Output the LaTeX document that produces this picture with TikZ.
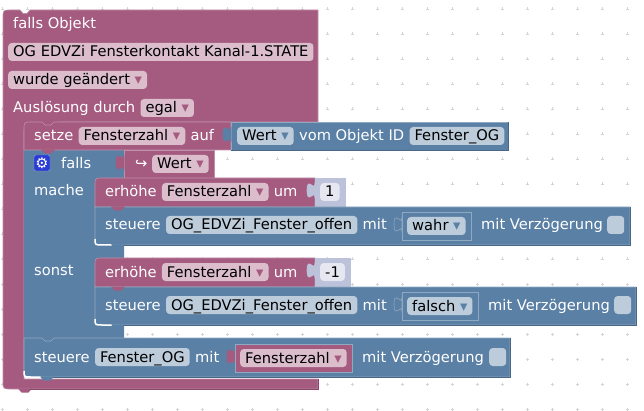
\documentclass[tikz,border=0pt]{standalone}
\usepackage{fontspec}
\setmainfont{DejaVu Sans}
\usetikzlibrary{positioning}

\definecolor{blkpink}{HTML}{A55B80}
\definecolor{pinkedge}{HTML}{C08FA9}
\definecolor{pinkdark}{HTML}{84496A}
\definecolor{pinkfld}{HTML}{DBBDCC}
\definecolor{blkblue}{HTML}{5B80A5}
\definecolor{blueedge}{HTML}{8FA9C0}
\definecolor{bluedark}{HTML}{496684}
\definecolor{bluefld}{HTML}{BDCCDB}
\definecolor{blklila}{HTML}{BDC2DB}
\definecolor{lilafld}{HTML}{E5E7F1}
\definecolor{gridgrey}{HTML}{D4D4D4}
\definecolor{gearblue}{HTML}{2B3BD6}

\tikzset{
  pinkblock/.style={fill=blkpink, draw=pinkedge, line width=.6pt},
  blueblock/.style={fill=blkblue, draw=blueedge, line width=.6pt},
  lilablock/.style={fill=blklila, draw=blklila, line width=.6pt},
  lab/.style={text=white, inner sep=0pt, text height=12pt, text depth=2pt},
  fld/.style={text=black, rounded corners=3.5pt, inner ysep=0pt, inner xsep=5pt,
    minimum height=18pt, text height=12pt, text depth=2pt},
  pinkfield/.style={fld, fill=pinkfld},
  bluefield/.style={fld, fill=bluefld},
  lilafield/.style={fld, fill=lilafld},
  checkfield/.style={fld, fill=bluefld, minimum width=17pt, inner xsep=0pt},
  every node/.style={font=\fontsize{14.67}{17}\selectfont, anchor=west}
}

% left tab of a value block
\newcommand{\puzzletab}[4]{
  \fill[#3, draw=#4, line width=.6pt] (#1,#2+5) .. controls (#1,#2+15) and (#1-8,#2-3) .. (#1-8,#2+12.5)
    .. controls (#1-8,#2+28) and (#1,#2+10) .. (#1,#2+20) -- cycle;
}
% tab below a statement block
\newcommand{\blocktab}[3]{
  \fill[#3] (#1-7,#2-.5) -- (#1-3.5,#2+3.5) -- (#1+3.5,#2+3.5) -- (#1+7,#2-.5) -- cycle;
}
% light line round the lower left corner
\newcommand{\whitecorner}[2]{
  \draw[white, line width=1.5pt] (#1,#2-6) .. controls (#1,#2) .. (#1+7,#2) -- (#1+17,#2);
}
% dark line below and right of a block
\newcommand{\darkline}[5]{
  \draw[#5, line width=.7pt] (#1,#4) -- (#2,#4) -- (#2,#3);
}

\begin{document}
\begin{tikzpicture}[x=1pt, y=-1pt]
    \useasboundingbox (0,0) rectangle (644,411);

    % dots of the workspace
    \foreach \gx in {2,27,...,627} {
      \foreach \gy in {9,34,...,409} {
        \draw[gridgrey, line width=.5pt] (\gx-1.5,\gy) -- (\gx+1.5,\gy) (\gx,\gy-1.5) -- (\gx,\gy+1.5);
      }
    }

    % outer block
    \draw[pinkblock] (3,18) .. controls (3,10) .. (11,10) -- (20,10) -- (23,13.5) -- (27,13.5) -- (30,10)
      -- (318,10) -- (318,122) -- (60,122) -- (60,131) -- (24,131) -- (24,379) -- (318,379) -- (318,389) -- (11,389)
      .. controls (3,389) .. (3,381) -- cycle;
    \blocktab{25}{389}{blkpink}
    \darkline{30}{318}{379}{389}{pinkdark}
    \node [lab] (head) at (13,24) {falls Objekt};
    \node [pinkfield] (objekt) at (8,52) {OG EDVZi Fensterkontakt Kanal-1.STATE};
    \node [pinkfield] (event) at (8,80) {wurde geändert {\color{blkpink}▾}};
    \node [lab] (trigger) at (13,108) {Auslösung durch};
    \node [pinkfield, right=5pt of trigger] (egal) {egal {\color{blkpink}▾}};

    % falls column
    \fill[blkblue] (24,150) -- (124,150) -- (124,178) -- (103,178) -- (103,186) -- (95,186) -- (95,237) -- (103,237) -- (103,245) -- (124,245) -- (124,258)
      -- (103,258) -- (103,266) -- (95,266) -- (95,317) -- (103,317) -- (103,325) -- (124,325) -- (124,341) -- (24,341) -- cycle;

    % setze row
    \draw[pinkblock] (24,150) -- (24,130) .. controls (24,122) .. (32,122) -- (42,122) -- (45,125) -- (51,125) -- (54,122)
      -- (231,122) -- (231,150) -- cycle;
    \blocktab{48}{150}{blkpink}
    \draw[blueblock] (231,122) -- (508,122) -- (508,150) -- (231,150) -- cycle;
    \puzzletab{231}{122}{blkblue}{blkblue}
    \darkline{231}{508}{122}{150}{bluedark}
    \node [lab] (setze) at (34,136) {setze};
    \node [pinkfield, right=5pt of setze] (zahlA) {Fensterzahl {\color{blkpink}▾}};
    \node [lab, right=5pt of zahlA] (auf) {auf};
    \node [bluefield] (wert) at (237,136) {Wert {\color{blkblue}▾}};
    \node [lab, right=5pt of wert] (objid) {vom Objekt ID};
    \node [bluefield, right=5pt of objid] (fensterog) {Fenster\_OG};

    % falls row
    \node [fill=gearblue, draw=blueedge, rounded corners=2pt, minimum size=16pt, inner sep=0pt, anchor=center, text=white] (gear) at (42,163) {⚙};
    \node [lab] (falls) at (61,164) {falls};
    \node [lab] (mache) at (34,191) {mache};
    \node [lab] (sonst) at (34,271) {sonst};
    \draw[pinkblock] (124,150) -- (214,150) -- (214,178) -- (124,178) -- cycle;
    \puzzletab{124}{150}{blkpink}{blkpink}
    \node [lab] (arrow) at (135,164) {↪};
    \node [pinkfield] (wertB) at (152,164) {Wert {\color{blkpink}▾}};

    % mache branch
    \draw[pinkblock] (95,207) -- (95,186) .. controls (95,178) .. (103,178) -- (315,178) -- (315,207) -- cycle;
    \draw[lilablock] (315,178) -- (345,178) -- (345,207) -- (315,207) -- cycle;
    \puzzletab{315}{178}{blklila}{blklila}
    \node [lab] (erhoeheA) at (105,192) {erhöhe};
    \node [pinkfield, right=5pt of erhoeheA] (zahlB) {Fensterzahl {\color{blkpink}▾}};
    \node [lab, right=5pt of zahlB] (umA) {um};
    \node [lilafield] (eins) at (320,192) {1};
    \draw[blueblock] (95,207) -- (630,207) -- (630,245) -- (103,245) .. controls (95,245) .. (95,237) -- cycle;
    \whitecorner{95}{245}
    \darkline{112}{630}{207}{245}{bluedark}
    \blocktab{118}{245}{blkblue}
    \blocktab{118}{207}{blkpink}
    \node [lab] (steuereA) at (105,225) {steuere};
    \node [bluefield, right=5pt of steuereA] (offenA) {OG\_EDVZi\_Fenster\_offen};
    \node [lab, right=5pt of offenA] (mitA) {mit};
    \puzzletab{402}{212}{blkblue}{blueedge}
    \draw[blueblock] (402,212) rectangle (471,240);
    \node [bluefield] (wahr) at (407,226) {wahr {\color{blkblue}▾}};
    \node [lab] (verzA) at (481,225) {mit Verzögerung};
    \node [checkfield] (checkA) at (607,225) {};

    % sonst branch
    \draw[pinkblock] (95,287) -- (95,266) .. controls (95,258) .. (103,258) -- (315,258) -- (315,287) -- cycle;
    \draw[lilablock] (315,258) -- (350,258) -- (350,287) -- (315,287) -- cycle;
    \puzzletab{315}{258}{blklila}{blklila}
    \node [lab] (erhoeheB) at (105,272) {erhöhe};
    \node [pinkfield, right=5pt of erhoeheB] (zahlC) {Fensterzahl {\color{blkpink}▾}};
    \node [lab, right=5pt of zahlC] (umB) {um};
    \node [lilafield] (minuseins) at (320,272) {-1};
    \draw[blueblock] (95,287) -- (636,287) -- (636,325) -- (103,325) .. controls (95,325) .. (95,317) -- cycle;
    \whitecorner{95}{325}
    \darkline{112}{636}{287}{325}{bluedark}
    \blocktab{118}{325}{blkblue}
    \blocktab{118}{287}{blkpink}
    \node [lab] (steuereB) at (105,305) {steuere};
    \node [bluefield, right=5pt of steuereB] (offenB) {OG\_EDVZi\_Fenster\_offen};
    \node [lab, right=5pt of offenB] (mitB) {mit};
    \puzzletab{402}{292}{blkblue}{blueedge}
    \draw[blueblock] (402,292) rectangle (478,320);
    \node [bluefield] (falsch) at (407,306) {falsch {\color{blkblue}▾}};
    \node [lab] (verzB) at (488,305) {mit Verzögerung};
    \node [checkfield] (checkB) at (614,305) {};

    % last row
    \draw[blueblock] (24,338) -- (42,338) -- (45,341) -- (51,341) -- (54,338) -- (510,338) -- (510,377) -- (32,377)
      .. controls (24,377) .. (24,369) -- cycle;
    \whitecorner{24}{377}
    \darkline{41}{510}{338}{377}{bluedark}
    \blocktab{47}{377}{blkblue}
    \node [lab] (steuereC) at (34,357) {steuere};
    \node [bluefield, right=5pt of steuereC] (fensterogB) {Fenster\_OG};
    \node [lab, right=5pt of fensterogB] (mitC) {mit};
    \puzzletab{235}{344}{blkpink}{blkpink}
    \draw[fill=blkpink, draw=blueedge, line width=.6pt] (235,344) rectangle (352,372);
    \node [pinkfield] (zahlD) at (240,358) {Fensterzahl {\color{blkpink}▾}};
    \node [lab] (verzC) at (362,357) {mit Verzögerung};
    \node [checkfield] (checkC) at (489,357) {};
\end{tikzpicture}
\end{document}
